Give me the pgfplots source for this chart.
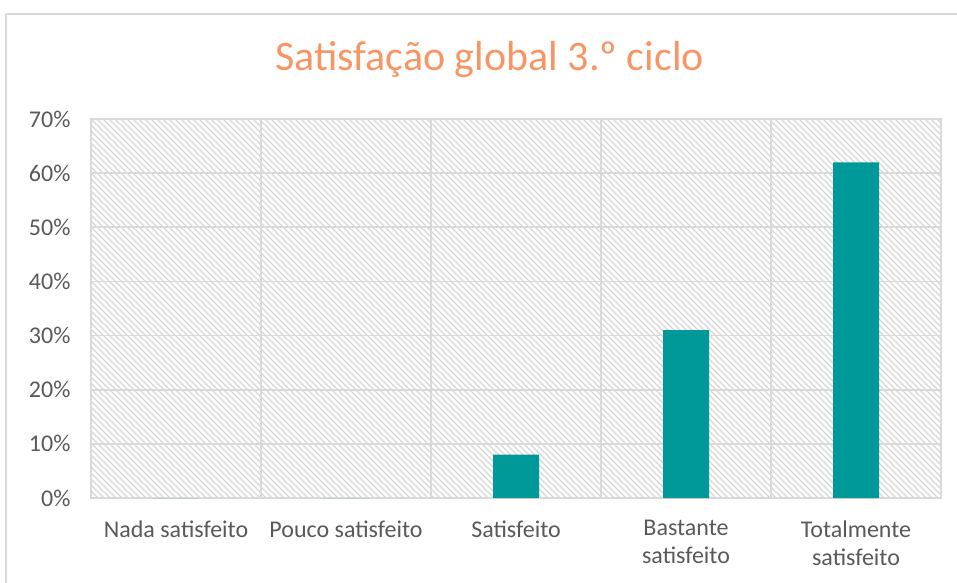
\documentclass[border=0pt]{standalone}
\usepackage{pgfplots}
\pgfplotsset{compat=1.18}
\usepackage{fontspec}
\setmainfont{Carlito}
\definecolor{barcol}{RGB}{0,153,153}
\definecolor{gridcol}{RGB}{217,217,217}
\definecolor{hatchcol}{RGB}{214,214,214}
\definecolor{titlecol}{RGB}{247,150,100}
\definecolor{labcol}{RGB}{89,89,89}
\begin{document}
\begin{tikzpicture}
\useasboundingbox (-91bp,-85bp) rectangle (866bp,498bp);
\draw[gridcol, line width=1.2bp] (-85bp,-100bp) -- (-85bp,484bp) -- (880bp,484bp);
\begin{scope}
\clip (0,0) rectangle (850bp,379bp);
\foreach \i in {-64,...,142}{
  \draw[hatchcol, line width=1.2bp] ({6*\i*1bp},379bp) -- ({(6*\i+379)*1bp},0bp);
}
\end{scope}
\begin{axis}[
  at={(0,0)}, anchor=south west,
  scale only axis,
  width=850bp, height=379bp,
  xmin=-0.5, xmax=4.5,
  ymin=0, ymax=0.7,
  ytick={0,0.1,...,0.7},
  yticklabel={\pgfmathparse{round(100*\tick)}\pgfmathprintnumber[fixed,precision=0]{\pgfmathresult}\%},
  /pgf/number format/assume math mode=true,
  xtick={0,1,2,3,4},
  xticklabels={Nada satisfeito, Pouco satisfeito, Satisfeito, {Bastante\\satisfeito}, {Totalmente\\satisfeito}},
  minor xtick={0.5,1.5,2.5,3.5},
  xminorgrids=true, ymajorgrids=true,
  major tick length=0pt, minor tick length=0pt,
  grid style={gridcol, line width=1.6bp},
  minor grid style={gridcol, line width=1.6bp},
  axis line style={gridcol, line width=1.6bp},
  xticklabel style={font=\fontsize{24bp}{28bp}\selectfont, text=labcol, align=center, anchor=north, yshift=-19bp},
  yticklabel style={font=\fontsize{24bp}{28bp}\selectfont, text=labcol, anchor=east, xshift=-17bp},
  title={Satisfação global 3.º ciclo},
  title style={font=\fontsize{42bp}{48bp}\selectfont, text=titlecol, at={(0.469,1)}, anchor=base, yshift=43bp},
  bar width=46bp,
]
\addplot[ybar, fill=barcol, draw=none, bar shift=0pt] coordinates {(0,0) (1,0) (2,0.08) (3,0.31) (4,0.62)};
\end{axis}
\end{tikzpicture}
\end{document}
